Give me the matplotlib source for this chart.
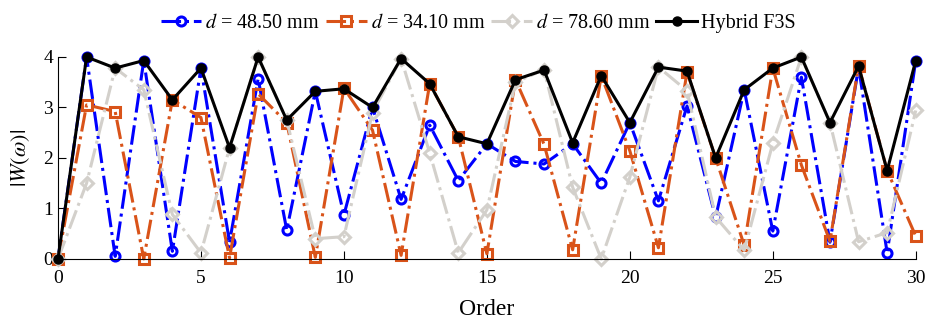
import matplotlib
matplotlib.use('Agg')
import matplotlib.pyplot as plt

# orders
order = list(range(31))

# |W(omega)| for each tube length
w_4850 = [0, 4.0, 0.05, 3.93, 0.15, 3.78, 0.33, 3.57, 0.57, 3.32, 0.87,
          3.0, 1.18, 2.65, 1.55, 2.28, 1.93, 1.88, 2.28, 1.50, 2.70,
          1.15, 3.03, 0.82, 3.35, 0.55, 3.60, 0.33, 3.80, 0.12, 3.93]
w_3410 = [0, 3.05, 2.92, 0.0, 3.15, 2.80, 0.02, 3.27, 2.70, 0.03, 3.38,
          2.55, 0.07, 3.47, 2.42, 0.10, 3.55, 2.27, 0.18, 3.63, 2.14,
          0.22, 3.70, 2.00, 0.27, 3.78, 1.86, 0.35, 3.83, 1.75, 0.45]
w_7860 = [0, 1.50, 3.78, 3.35, 0.88, 0.12, 2.20, 4.0, 2.75, 0.40, 0.44,
          2.90, 3.97, 2.10, 0.12, 0.97, 3.50, 3.75, 1.42, 0.0, 1.62,
          3.80, 3.33, 0.83, 0.17, 2.29, 4.0, 2.70, 0.34, 0.52, 2.94]
w_hybrid = [0, 4.0, 3.78, 3.93, 3.15, 3.78, 2.20, 4.0, 2.75, 3.32, 3.37,
            3.0, 3.97, 3.47, 2.42, 2.28, 3.55, 3.74, 2.30, 3.63, 2.70,
            3.80, 3.72, 2.00, 3.35, 3.78, 4.0, 2.70, 3.82, 1.75, 3.93]

plt.rcParams['font.family'] = 'Liberation Serif'
plt.rcParams['mathtext.fontset'] = 'stix'

fig = plt.figure(figsize=(9.25, 3.22), dpi=100)
ax = fig.add_axes([0.0627, 0.196, 0.9273, 0.627])

lw = 2.2
ax.plot(order, w_4850, '-.', color='#0000ff', lw=lw, marker='o', ms=6.5,
        mfc='none', mew=2.2, clip_on=False, label='$d$ = 48.50 mm')
ax.plot(order, w_3410, '-.', color='#d95319', lw=lw, marker='s', ms=6.5,
        mfc='none', mew=2.2, clip_on=False, label='$d$ = 34.10 mm')
ax.plot(order, w_7860, '-.', color='#d3d0cb', lw=lw, marker='D', ms=6,
        mfc='none', mew=2.2, clip_on=False, label='$d$ = 78.60 mm')
ax.plot(order, w_hybrid, '-', color='black', lw=2.2, marker='o', ms=6.5,
        clip_on=False, label='Hybrid F3S')

ax.set_xlim(0, 30)
ax.set_ylim(0, 4)
ax.set_xticks(range(0, 31, 5))
ax.set_yticks(range(0, 5))
ax.tick_params(direction='in', labelsize=14, length=6)
ax.tick_params(axis='x', pad=8)
for s in ['top', 'right']:
    ax.spines[s].set_visible(False)
ax.set_xlabel('Order', fontsize=17, labelpad=9)
ax.set_ylabel(r'$|W(\omega)|$', fontsize=16, labelpad=8)

ax.legend(loc='lower center', bbox_to_anchor=(0.49, 1.08), ncol=4,
          frameon=False, fontsize=14.5, handlelength=2.0, columnspacing=0.3,
          handletextpad=0.2, borderaxespad=0)

fig.savefig('out.png', dpi=100)
